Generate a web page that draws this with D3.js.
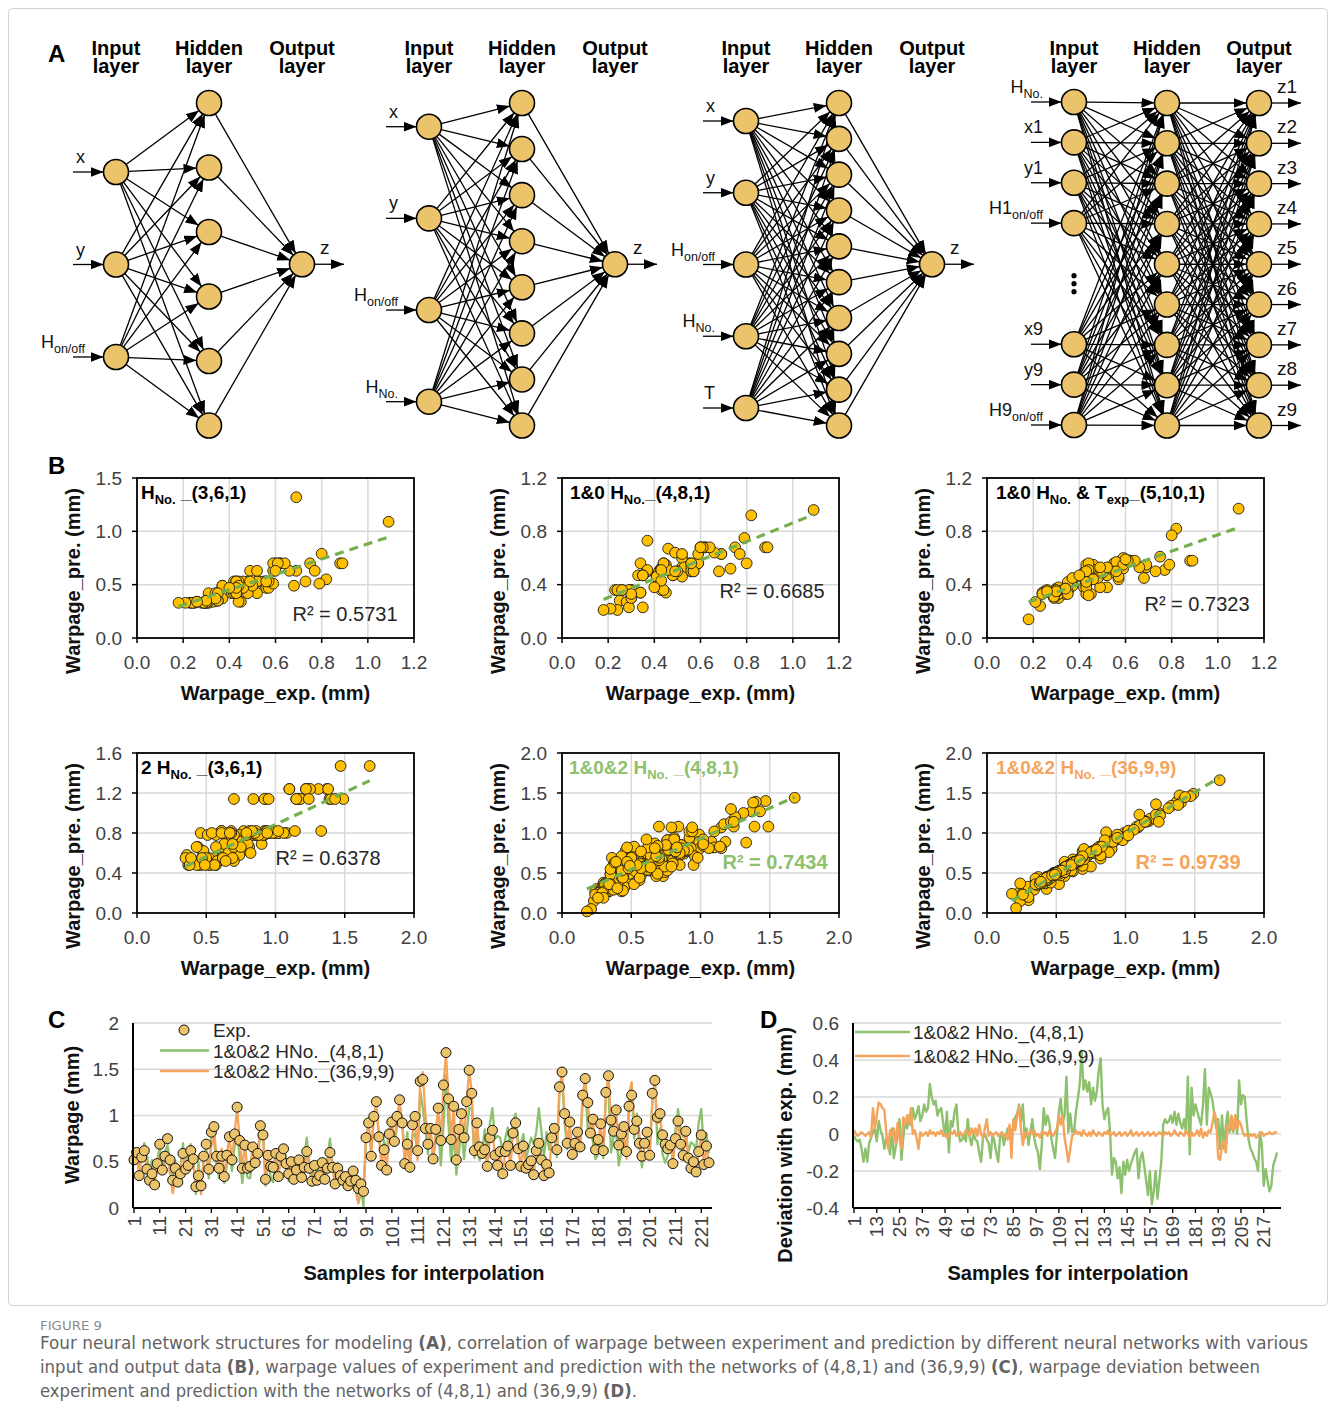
<!DOCTYPE html>
<html>
<head>
<meta charset="utf-8">
<title>Figure 9 – neural network warpage models</title>
<script src="https://cdn.jsdelivr.net/npm/d3@7/dist/d3.min.js"></script>
<style>
html,body{margin:0;padding:0;background:#fff;overflow:hidden;}
svg{display:block;}
text{white-space:pre;}
</style>
</head>
<body>
<svg id="fig" width="1333" height="1421"></svg>
<script>
// ===================== DATA =====================

// Experimental warpage (mm) of the 224 interpolation samples
const expWarpage = [
0.52,0.60,0.35,0.55,0.62,0.42,0.30,0.37,0.25,0.48,
0.69,0.41,0.56,0.75,0.52,0.30,0.43,0.28,0.37,0.59,
0.42,0.46,0.62,0.53,0.23,0.35,0.24,0.56,0.69,0.42,
0.82,0.88,0.56,0.43,0.56,0.34,0.57,0.77,0.52,0.80,
1.09,0.73,0.43,0.68,0.43,0.45,0.66,0.49,0.59,0.89,
0.79,0.31,0.57,0.45,0.44,0.59,0.34,0.56,0.64,0.48,
0.37,0.50,0.31,0.41,0.52,0.33,0.44,0.61,0.43,0.29,
0.46,0.30,0.35,0.49,0.31,0.43,0.60,0.44,0.26,0.43,
0.35,0.30,0.34,0.24,0.29,0.40,0.30,0.21,0.26,0.18,
0.76,0.92,0.56,0.99,1.15,0.77,0.46,0.63,0.41,0.80,
0.93,0.72,0.99,1.17,0.92,0.48,0.69,0.44,0.90,0.99,
0.62,1.37,1.39,0.86,0.69,0.86,0.53,0.85,1.08,0.73,
1.33,1.68,1.18,0.74,1.10,0.52,0.85,1.02,0.76,1.15,
1.49,1.24,0.62,0.92,0.66,0.59,0.63,0.45,0.76,0.84,
0.57,0.46,0.61,0.37,0.61,0.67,0.46,0.81,0.92,0.64,
0.45,0.67,0.43,0.47,0.51,0.36,0.62,0.70,0.52,0.35,
0.47,0.38,0.76,0.86,0.63,1.31,1.47,1.02,0.70,0.93,
0.58,0.70,0.82,0.66,1.22,1.40,1.14,0.81,0.96,0.63,
0.74,0.91,0.62,1.25,1.43,0.95,0.83,1.06,0.68,0.80,
0.88,0.61,1.10,1.22,0.85,0.94,0.70,0.56,0.70,0.82,
0.57,1.24,1.38,0.98,1.02,0.79,0.69,0.64,0.68,0.48,
0.75,0.94,0.69,0.57,0.83,0.54,0.43,0.50,0.39,0.61,
0.79,0.47,0.67,0.49
];

// Deviation (exp. - pre.) of the 1&0&2 HNo._(4,8,1) network
const dev481 = [
-0.01,-0.03,-0.04,-0.03,-0.08,-0.15,-0.08,-0.15,-0.05,-0.02,
0.01,0.03,-0.04,0.07,0.02,-0.01,-0.08,-0.02,-0.05,-0.11,
0.03,-0.13,-0.07,-0.01,0.08,-0.14,-0.02,0.07,0.03,0.10,
0.05,0.14,0.08,0.11,0.15,0.07,0.10,0.16,0.12,0.14,
0.27,0.20,0.16,0.18,0.10,0.13,0.14,0.06,-0.01,0.12,
-0.10,0.07,0.04,0.12,0.16,0.01,-0.04,-0.03,-0.01,-0.04,
0.08,-0.02,-0.06,0.01,-0.03,-0.04,-0.10,-0.15,-0.02,0.00,
-0.03,-0.05,-0.13,0.00,-0.04,-0.10,-0.15,-0.02,0.01,-0.06,
-0.01,0.03,-0.02,0.01,0.04,0.09,0.11,0.16,0.07,0.16,
-0.02,0.03,-0.06,0.01,0.08,-0.02,-0.07,-0.10,-0.19,-0.06,
0.14,0.05,0.10,0.06,-0.02,-0.08,-0.13,0.00,0.12,0.19,
0.06,0.10,0.31,0.01,0.11,0.01,0.01,0.12,0.19,0.27,
0.45,0.24,0.29,0.23,0.28,0.16,0.25,0.18,0.23,0.34,
0.41,0.16,0.08,0.12,0.14,0.01,-0.22,-0.13,-0.15,-0.24,
-0.18,-0.32,-0.15,-0.22,-0.14,-0.20,-0.16,-0.13,-0.10,-0.08,
-0.24,-0.13,-0.10,-0.17,-0.25,-0.33,-0.20,-0.38,-0.31,-0.20,
-0.35,-0.25,-0.15,0.05,0.08,0.06,0.07,0.10,0.06,0.12,
0.05,0.11,0.06,0.03,0.08,0.01,0.31,-0.11,0.25,0.10,
0.16,0.12,0.08,0.05,0.16,0.35,0.05,0.25,0.22,0.18,
0.10,0.03,0.08,-0.08,0.10,-0.08,0.04,0.12,0.01,0.05,
0.01,0.10,0.00,0.29,0.16,0.21,0.20,0.07,-0.03,-0.08,
-0.10,-0.13,-0.15,-0.20,0.01,-0.06,-0.28,-0.19,-0.25,-0.31,
-0.28,-0.17,-0.14,-0.10
];

// Deviation (exp. - pre.) of the 1&0&2 HNo._(36,9,9) network
const dev3699 = [
0.02,0.00,-0.01,0.00,0.01,0.00,-0.01,0.00,0.01,-0.02,
0.14,0.03,0.10,0.17,0.16,0.14,0.13,0.01,-0.08,0.02,
-0.01,0.03,-0.05,0.06,-0.02,-0.08,0.09,0.05,0.10,0.05,
0.14,0.00,0.02,-0.02,-0.08,0.01,-0.01,0.00,0.01,-0.01,
0.02,0.00,0.01,-0.01,0.01,0.00,0.02,-0.01,0.00,-0.02,
-0.01,0.01,0.00,0.02,-0.01,0.00,0.01,-0.01,0.00,0.02,
0.01,-0.01,0.03,0.00,0.03,-0.01,0.05,0.00,-0.02,0.03,
0.08,-0.01,0.01,-0.01,0.00,0.01,-0.01,0.00,0.01,-0.01,
0.00,-0.03,0.05,-0.13,0.08,0.02,0.10,0.15,0.03,-0.06,
0.00,0.01,-0.01,0.02,0.00,0.02,-0.01,0.00,-0.02,0.01,
0.00,0.01,-0.01,0.02,0.00,-0.01,0.01,0.03,0.10,0.05,
0.10,-0.02,-0.08,-0.15,-0.08,-0.01,0.00,0.02,0.00,0.01,
-0.01,0.02,0.00,-0.01,0.01,-0.01,0.02,0.00,-0.01,0.01,
0.00,-0.01,0.01,0.00,0.02,-0.01,0.00,0.01,-0.01,0.00,
0.01,-0.01,0.00,0.01,-0.01,0.00,0.02,-0.01,0.00,0.01,
-0.01,0.00,0.01,-0.01,0.00,0.01,-0.01,0.00,0.01,-0.01,
0.00,0.01,0.00,-0.01,0.01,0.00,0.01,-0.01,0.00,0.02,
0.00,-0.01,0.01,0.00,-0.01,0.02,0.00,-0.02,0.01,-0.01,
0.00,0.02,-0.01,0.03,-0.02,0.01,-0.01,0.02,0.01,0.06,
0.12,0.08,-0.13,-0.14,-0.06,-0.04,-0.10,0.05,0.03,0.10,
0.02,0.10,0.03,0.07,0.05,0.01,-0.01,0.00,-0.02,0.00,
-0.01,0.00,-0.02,-0.01,0.00,0.01,-0.01,0.00,0.00,0.01,
0.00,0.00,0.01,0.01
];

// Predicted warpage (mm), samples 1-90: HNo._(3,6,1)
const predHNo361 = [
0.53,0.70,0.42,0.53,0.70,0.53,0.33,0.49,0.33,0.53,
1.32,0.42,0.49,0.70,0.42,0.35,0.49,0.33,0.37,0.63,
0.47,0.53,0.70,0.53,0.33,0.35,0.33,0.49,0.63,0.42,
0.55,0.70,0.53,0.53,0.47,0.35,0.47,0.63,0.53,0.79,
1.09,0.53,0.49,0.49,0.42,0.47,0.63,0.63,0.51,0.70,
0.51,0.42,0.53,0.34,0.34,0.70,0.42,0.53,0.70,0.42,
0.49,0.49,0.33,0.47,0.63,0.34,0.53,0.70,0.53,0.33,
0.47,0.35,0.42,0.53,0.34,0.42,0.63,0.49,0.34,0.47,
0.35,0.33,0.37,0.33,0.33,0.47,0.35,0.33,0.34,0.33
];
// samples 1-90: 1&0 HNo._(4,8,1)
const predHNo481 = [
0.53,0.68,0.47,0.56,0.68,0.43,0.30,0.73,0.28,0.47,
0.63,0.46,0.50,0.68,0.60,0.36,0.52,0.27,0.50,0.56,
0.50,0.67,0.68,0.53,0.36,0.23,0.21,0.56,0.63,0.43,
0.92,0.68,0.53,0.52,0.50,0.56,0.50,0.63,0.46,0.56,
0.96,0.52,0.52,0.50,0.36,0.55,0.64,0.64,0.56,0.68,
0.75,0.34,0.50,0.34,0.36,0.63,0.34,0.56,0.68,0.47,
0.51,0.50,0.34,0.46,0.63,0.47,0.56,0.68,0.52,0.23,
0.51,0.36,0.47,0.50,0.34,0.43,0.68,0.56,0.36,0.51,
0.47,0.30,0.34,0.36,0.36,0.38,0.33,0.22,0.36,0.21
];
// samples 1-90: 1&0 HNo. & Texp_(5,10,1)
const predHNoT5101 = [
0.50,0.59,0.38,0.56,0.58,0.45,0.37,0.43,0.35,0.52,
0.53,0.47,0.50,0.61,0.47,0.31,0.52,0.33,0.39,0.60,
0.38,0.55,0.58,0.52,0.24,0.42,0.34,0.54,0.55,0.49,
0.82,0.58,0.57,0.40,0.48,0.37,0.44,0.51,0.38,0.77,
0.97,0.50,0.55,0.45,0.33,0.52,0.53,0.38,0.52,0.58,
0.55,0.30,0.46,0.33,0.56,0.55,0.33,0.50,0.58,0.45,
0.45,0.49,0.38,0.46,0.53,0.36,0.51,0.58,0.50,0.30,
0.44,0.36,0.35,0.53,0.33,0.38,0.59,0.32,0.36,0.42,
0.33,0.34,0.37,0.33,0.31,0.47,0.35,0.27,0.35,0.14
];
// samples 91-224: 2 HNo._(3,6,1)
const pred2HNo361 = [
0.66,0.82,0.55,0.80,1.14,0.82,0.48,0.66,0.52,0.78,
1.14,0.66,0.80,1.14,0.80,0.52,0.78,0.66,0.69,0.82,
0.80,1.24,1.14,0.78,0.60,0.82,0.48,0.78,0.80,0.69,
0.82,1.47,1.14,0.78,1.24,0.55,0.78,0.80,0.62,1.14,
1.14,1.24,0.80,1.14,0.58,0.52,0.66,0.48,0.69,1.14,
0.48,0.80,0.55,0.48,0.82,0.66,0.52,0.82,0.78,0.55,
0.52,0.78,0.48,0.55,0.78,0.58,0.66,1.14,0.48,0.55,
0.62,0.48,0.72,0.78,0.69,1.24,1.47,0.80,0.62,0.82,
0.52,0.78,0.78,0.60,1.24,1.14,0.82,0.66,0.80,0.80,
0.58,0.78,0.55,1.24,1.14,1.14,0.80,0.80,0.82,0.69,
0.78,0.82,1.24,1.24,0.80,0.82,0.66,0.48,0.52,0.60,
0.78,1.14,1.24,0.80,0.82,0.78,0.55,0.52,0.80,0.62,
0.66,0.80,0.69,0.66,0.82,0.80,0.66,0.55,0.55,0.80,
0.80,0.55,0.80,0.48
];

// Linear trendlines (slope, intercept) and R² of the six correlation plots
const trendSlope     = [0.717, 0.700, 0.615, 0.645, 0.766, 1.028];
const trendIntercept = [0.166, 0.163, 0.159, 0.240, 0.162, -0.033];
const r2Values       = ["0.5731", "0.6685", "0.7323", "0.6378", "0.7434", "0.9739"];

// Axis ticks
const ticksExpSmall = [0, 0.2, 0.4, 0.6, 0.8, 1.0, 1.2];
const ticksExpLarge = [0, 0.5, 1.0, 1.5, 2.0];
const ticksPre15 = [0, 0.5, 1.0, 1.5];
const ticksPre12 = [0, 0.4, 0.8, 1.2];
const ticksPre16 = [0, 0.4, 0.8, 1.2, 1.6];
const ticksPre20 = [0, 0.5, 1.0, 1.5, 2.0];
const ticksWarpC = [0, 0.5, 1, 1.5, 2];
const ticksDevD  = [-0.4, -0.2, 0, 0.2, 0.4, 0.6];
const sampleTicksC = [1,11,21,31,41,51,61,71,81,91,101,111,121,131,141,151,161,171,181,191,201,211,221];
const sampleTicksD = [1,13,25,37,49,61,73,85,97,109,121,133,145,157,169,181,193,205,217];

// Network structures: input labels (segments: [text, subscript?]), hidden count, outputs
const layerHeaders = [["Input", "layer"], ["Hidden", "layer"], ["Output", "layer"]];
const netInputs = [
  [[["x",0]], [["y",0]], [["H",0],["on/off",1]]],
  [[["x",0]], [["y",0]], [["H",0],["on/off",1]], [["H",0],["No.",1]]],
  [[["x",0]], [["y",0]], [["H",0],["on/off",1]], [["H",0],["No.",1]], [["T",0]]],
  [[["H",0],["No.",1]], [["x1",0]], [["y1",0]], [["H1",0],["on/off",1]], null, null,
   [["x9",0]], [["y9",0]], [["H9",0],["on/off",1]]]
];
const netHidden = [6, 8, 10, 9];
const netOutputs = [["z"], ["z"], ["z"], ["z1","z2","z3","z4","z5","z6","z7","z8","z9"]];

// Chart titles of the correlation plots
const scatterTitles = [
  [["H",0],["No.",1],[" _(3,6,1)",0]],
  [["1&0 H",0],["No.",1],["_(4,8,1)",0]],
  [["1&0 H",0],["No.",1],[" & T",0],["exp",1],["_(5,10,1)",0]],
  [["2 H",0],["No.",1],[" _(3,6,1)",0]],
  [["1&0&2 H",0],["No.",1],[" _(4,8,1)",0]],
  [["1&0&2 H",0],["No.",1],[" _(36,9,9)",0]]
];
const seriesNames = ["Exp.", "1&0&2 HNo._(4,8,1)", "1&0&2 HNo._(36,9,9)"];

const captionHead = "FIGURE 9";
const captionLines = [
  [["Four neural network structures for modeling ",0],["(A)",1],[", correlation of warpage between experiment and prediction by different neural networks with various",0]],
  [["input and output data ",0],["(B)",1],[", warpage values of experiment and prediction with the networks of (4,8,1) and (36,9,9) ",0],["(C)",1],[", warpage deviation between",0]],
  [["experiment and prediction with the networks of (4,8,1) and (36,9,9) ",0],["(D)",1],[".",0]]
];

// ===================== DRAWING =====================
const FF = "'Liberation Sans', Arial, Helvetica, sans-serif";
const GREEN = "#8DC16E", ORANGE = "#F5A45C", NODE_FILL = "#EAC36A", PT_FILL = "#FFC000", TREND = "#76B04D";
const TICK_COL = "#404040";

const svg = d3.select("#fig").attr("font-family", FF);

// Predictions derived from the deviations (deviation = exp. - pre.)
const pre481 = expWarpage.map((e, i) => +(e - dev481[i]).toFixed(3));
const pre3699 = expWarpage.map((e, i) => +(e - dev3699[i]).toFixed(3));

// Frame around the figure
svg.append("rect").attr("x", 8.5).attr("y", 8.5).attr("width", 1319).attr("height", 1297)
  .attr("rx", 4).attr("fill", "none").attr("stroke", "#d2d2d2").attr("stroke-width", 1);

// Text with optional subscript segments
function rich(sel, segs, size, subSize, shift) {
  let lvl = 0;
  segs.forEach(([t, sub]) => {
    const ts = sel.append("tspan").text(t).attr("font-size", sub ? subSize : size);
    const target = sub ? shift : 0;
    if (target !== lvl) { ts.attr("dy", target - lvl); lvl = target; }
  });
  return sel;
}

function panelLetter(ch, x, y) {
  svg.append("text").attr("x", x).attr("y", y).attr("font-size", 24).attr("font-weight", "bold")
    .attr("fill", "#000").text(ch);
}
panelLetter("A", 48, 62);
panelLetter("B", 48, 474);
panelLetter("C", 48, 1028);
panelLetter("D", 760, 1028);

// ---------- Panel A: network structures ----------
const defs = svg.append("defs");
defs.append("marker").attr("id", "ah").attr("viewBox", "0 0 13 10")
  .attr("refX", 13).attr("refY", 5).attr("markerWidth", 13).attr("markerHeight", 10)
  .attr("markerUnits", "userSpaceOnUse").attr("orient", "auto")
  .append("path").attr("d", "M0,0L13,5L0,10Z").attr("fill", "#000");

const NODE_R = 12.5;
const netCols = [[116, 209, 302], [429, 522, 615], [746, 839, 932], [1074, 1167, 1259]];
const netInSpan = [[172, 357], [126.7, 401.7], [121, 408], [102, 425]];
const colSpan = [103, 425.5];

function edgeCoords(a, b) {
  const dx = b.x - a.x, dy = b.y - a.y, L = Math.hypot(dx, dy);
  const ux = dx / L, uy = dy / L;
  return { x1: a.x + ux * NODE_R, y1: a.y + uy * NODE_R, x2: b.x - ux * NODE_R, y2: b.y - uy * NODE_R };
}

netInputs.forEach((inputs, k) => {
  const [cx0, cx1, cx2] = netCols[k];
  const g = svg.append("g");

  // two-line layer headers
  layerHeaders.forEach((lines, j) => {
    lines.forEach((ln, li) => {
      g.append("text").attr("x", netCols[k][j]).attr("y", 55 + li * 18).attr("text-anchor", "middle")
        .attr("font-size", 20).attr("font-weight", "bold").attr("fill", "#000").text(ln);
    });
  });

  const yIn = d3.scaleLinear().domain([0, inputs.length - 1]).range(netInSpan[k]);
  const inNodes = inputs.map((lab, i) => lab ? { x: cx0, y: yIn(i), lab } : null).filter(Boolean);
  const yHid = d3.scaleLinear().domain([0, netHidden[k] - 1]).range(colSpan);
  const hidNodes = d3.range(netHidden[k]).map(i => ({ x: cx1, y: yHid(i) }));
  const outs = netOutputs[k];
  const yOut = outs.length > 1 ? d3.scaleLinear().domain([0, outs.length - 1]).range(colSpan)
                               : () => d3.mean(colSpan);
  const outNodes = outs.map((lab, i) => ({ x: cx2, y: yOut(i), lab }));

  const links = [];
  inNodes.forEach(a => hidNodes.forEach(b => links.push(edgeCoords(a, b))));
  hidNodes.forEach(a => outNodes.forEach(b => links.push(edgeCoords(a, b))));
  inNodes.forEach(n => links.push({ x1: n.x - 43, y1: n.y, x2: n.x - NODE_R, y2: n.y }));
  outNodes.forEach(n => links.push({ x1: n.x + NODE_R, y1: n.y, x2: n.x + 42, y2: n.y }));

  g.selectAll("line.edge").data(links).join("line").attr("class", "edge")
    .attr("x1", d => d.x1).attr("y1", d => d.y1).attr("x2", d => d.x2).attr("y2", d => d.y2)
    .attr("stroke", "#000").attr("stroke-width", 1.3).attr("marker-end", "url(#ah)");

  g.selectAll("circle.node").data(inNodes.concat(hidNodes, outNodes)).join("circle").attr("class", "node")
    .attr("cx", d => d.x).attr("cy", d => d.y).attr("r", NODE_R)
    .attr("fill", NODE_FILL).attr("stroke", "#000").attr("stroke-width", 1.6);

  // input labels
  inNodes.forEach(n => {
    const t = g.append("text").attr("x", n.x - 31).attr("y", n.y - 9).attr("text-anchor", "end").attr("fill", "#111");
    rich(t, n.lab, 18, 12.5, 5);
  });
  // output labels
  outNodes.forEach(n => {
    g.append("text").attr("x", n.x + 18).attr("y", n.y - 10).attr("font-size", 19).attr("fill", "#111").text(n.lab);
  });
  // ellipsis between skipped inputs
  const gapIdx = inputs.map((d, i) => d ? null : i).filter(v => v !== null);
  if (gapIdx.length) {
    const midY = yIn(d3.mean(gapIdx));
    g.selectAll("circle.dot").data([-8, 0, 8]).join("circle").attr("class", "dot")
      .attr("cx", cx0).attr("cy", d => midY + d).attr("r", 2.6).attr("fill", "#000");
  }
});

// ---------- Panel B: correlation plots ----------
const PW = 277, PH = 160;
const scatterBoxes = [
  { x0: 137, y0: 478 }, { x0: 562, y0: 478 }, { x0: 987, y0: 478 },
  { x0: 137, y0: 753 }, { x0: 562, y0: 753 }, { x0: 987, y0: 753 }
];
const expFirst = expWarpage.slice(0, 90), expSecond = expWarpage.slice(90);
const scatterX = [expFirst, expFirst, expFirst, expSecond, expWarpage, expWarpage];
const scatterY = [predHNo361, predHNo481, predHNoT5101, pred2HNo361, pre481, pre3699];
const scatterXTicks = [ticksExpSmall, ticksExpSmall, ticksExpSmall, ticksExpLarge, ticksExpLarge, ticksExpLarge];
const scatterYTicks = [ticksPre15, ticksPre12, ticksPre12, ticksPre16, ticksPre20, ticksPre20];
const titleStyle = [
  { dx: 4, col: "#000" }, { dx: 8, col: "#000" }, { dx: 9, col: "#000" },
  { dx: 4, col: "#000" }, { dx: 7, col: GREEN }, { dx: 9, col: ORANGE }
];
const r2Style = [
  { dx: 208, dy: 136, bold: false, col: "#262626" }, { dx: 210, dy: 113, bold: false, col: "#262626" },
  { dx: 210, dy: 126, bold: false, col: "#262626" }, { dx: 191, dy: 105, bold: false, col: "#262626" },
  { dx: 213, dy: 109, bold: true, col: GREEN }, { dx: 201, dy: 109, bold: true, col: ORANGE }
];
const f1 = d3.format(".1f");

scatterBoxes.forEach((box, k) => {
  const xs = scatterX[k], ys = scatterY[k], xt = scatterXTicks[k], yt = scatterYTicks[k];
  const x = d3.scaleLinear().domain(d3.extent(xt)).range([box.x0, box.x0 + PW]);
  const y = d3.scaleLinear().domain(d3.extent(yt)).range([box.y0 + PH, box.y0]);
  const g = svg.append("g");

  g.selectAll("line.gx").data(xt.slice(1, -1)).join("line").attr("class", "gx")
    .attr("x1", d => x(d)).attr("x2", d => x(d)).attr("y1", box.y0).attr("y2", box.y0 + PH)
    .attr("stroke", "#d9d9d9").attr("stroke-width", 1.5);
  g.selectAll("line.gy").data(yt.slice(1, -1)).join("line").attr("class", "gy")
    .attr("y1", d => y(d)).attr("y2", d => y(d)).attr("x1", box.x0).attr("x2", box.x0 + PW)
    .attr("stroke", "#d9d9d9").attr("stroke-width", 1.5);

  g.selectAll("circle.pt").data(xs.map((v, i) => [v, ys[i]])).join("circle").attr("class", "pt")
    .attr("cx", d => x(d[0])).attr("cy", d => y(d[1])).attr("r", 5.4)
    .attr("fill", PT_FILL).attr("stroke", "#1a1a1a").attr("stroke-width", 0.9);

  const ext = d3.extent(xs);
  const a = trendIntercept[k], b = trendSlope[k];
  g.append("line").attr("x1", x(ext[0])).attr("y1", y(a + b * ext[0]))
    .attr("x2", x(ext[1])).attr("y2", y(a + b * ext[1]))
    .attr("stroke", TREND).attr("stroke-width", 3.2).attr("stroke-dasharray", "9 6");

  g.append("rect").attr("x", box.x0).attr("y", box.y0).attr("width", PW).attr("height", PH)
    .attr("fill", "none").attr("stroke", "#000").attr("stroke-width", 1.8);

  // ticks and tick labels
  g.selectAll("line.tx").data(xt).join("line").attr("class", "tx")
    .attr("x1", d => x(d)).attr("x2", d => x(d)).attr("y1", box.y0 + PH).attr("y2", box.y0 + PH + 5)
    .attr("stroke", "#000").attr("stroke-width", 1.5);
  g.selectAll("line.ty").data(yt).join("line").attr("class", "ty")
    .attr("y1", d => y(d)).attr("y2", d => y(d)).attr("x1", box.x0 - 5).attr("x2", box.x0)
    .attr("stroke", "#000").attr("stroke-width", 1.5);
  g.selectAll("text.lx").data(xt).join("text").attr("class", "lx")
    .attr("x", d => x(d)).attr("y", box.y0 + PH + 31).attr("text-anchor", "middle")
    .attr("font-size", 19).attr("fill", TICK_COL).text(f1);
  g.selectAll("text.ly").data(yt).join("text").attr("class", "ly")
    .attr("x", box.x0 - 15).attr("y", d => y(d)).attr("dy", "0.35em").attr("text-anchor", "end")
    .attr("font-size", 19).attr("fill", TICK_COL).text(f1);

  // axis titles
  g.append("text").attr("x", box.x0 + PW / 2).attr("y", box.y0 + PH + 62).attr("text-anchor", "middle")
    .attr("font-size", 20).attr("font-weight", "bold").attr("fill", "#111").text("Warpage_exp. (mm)");
  const ycx = box.x0 - 64, ycy = box.y0 + 103;
  g.append("text").attr("x", ycx).attr("y", ycy).attr("dy", "0.35em").attr("text-anchor", "middle")
    .attr("transform", `rotate(-90,${ycx},${ycy})`)
    .attr("font-size", 20).attr("font-weight", "bold").attr("fill", "#111").text("Warpage_pre. (mm)");

  // chart title and R²
  const ts = titleStyle[k];
  const t = g.append("text").attr("x", box.x0 + ts.dx).attr("y", box.y0 + 21)
    .attr("font-weight", "bold").attr("fill", ts.col);
  rich(t, scatterTitles[k], 19, 13, 5);
  const rs = r2Style[k];
  g.append("text").attr("x", box.x0 + rs.dx).attr("y", box.y0 + rs.dy).attr("dy", "0.35em")
    .attr("text-anchor", "middle").attr("font-size", 20).attr("font-weight", rs.bold ? "bold" : "normal")
    .attr("fill", rs.col).text("R² = " + r2Values[k]);
});

// ---------- shared helpers for the sample plots ----------
function drawSampleFrame(g, x, ys, yTicks, sTicks, left, right, bottom) {
  g.selectAll("line.grid").data(yTicks.filter(v => Math.abs(ys(v) - bottom) > 1)).join("line").attr("class", "grid")
    .attr("x1", left).attr("x2", right).attr("y1", d => ys(d)).attr("y2", d => ys(d))
    .attr("stroke", "#d9d9d9").attr("stroke-width", 1.5);
  g.selectAll("text.ly").data(yTicks).join("text").attr("class", "ly")
    .attr("x", left - 14).attr("y", d => ys(d)).attr("dy", "0.35em").attr("text-anchor", "end")
    .attr("font-size", 19).attr("fill", TICK_COL).text(d => String(d));
  g.selectAll("line.tx").data(sTicks).join("line").attr("class", "tx")
    .attr("x1", d => x(d)).attr("x2", d => x(d)).attr("y1", bottom).attr("y2", bottom + 5)
    .attr("stroke", "#000").attr("stroke-width", 1.3);
  g.selectAll("text.lx").data(sTicks).join("text").attr("class", "lx")
    .attr("transform", d => `translate(${x(d)},${bottom + 8}) rotate(-90)`)
    .attr("dy", "0.35em").attr("text-anchor", "end").attr("font-size", 19).attr("fill", TICK_COL)
    .text(d => d);
}
function drawAxesLines(g, left, right, top, bottom) {
  g.append("line").attr("x1", left).attr("x2", left).attr("y1", top).attr("y2", bottom)
    .attr("stroke", "#000").attr("stroke-width", 2);
  g.append("line").attr("x1", left).attr("x2", right).attr("y1", bottom).attr("y2", bottom)
    .attr("stroke", "#000").attr("stroke-width", 2);
}
function rotTitle(g, cx, cy, txt) {
  g.append("text").attr("x", cx).attr("y", cy).attr("dy", "0.35em").attr("text-anchor", "middle")
    .attr("transform", `rotate(-90,${cx},${cy})`).attr("font-size", 20).attr("font-weight", "bold")
    .attr("fill", "#111").text(txt);
}
function legendText(g, x, y, txt) {
  g.append("text").attr("x", x).attr("y", y).attr("dy", "0.35em").attr("font-size", 19)
    .attr("fill", "#262626").text(txt);
}

// ---------- Panel C: warpage of the interpolation samples ----------
{
  const g = svg.append("g");
  const left = 133, right = 712, top = 1023, bottom = 1208;
  const x = d3.scaleLinear().domain([1, 224]).range([134, 709]);
  const y = d3.scaleLinear().domain([0, 2]).range([bottom, top]);
  drawSampleFrame(g, x, y, ticksWarpC, sampleTicksC, left, right, bottom);

  const line = d3.line().x((d, i) => x(i + 1)).y(d => y(d));
  g.append("path").attr("d", line(pre481)).attr("fill", "none").attr("stroke", GREEN).attr("stroke-width", 2.3)
    .attr("stroke-linejoin", "round");
  g.append("path").attr("d", line(pre3699)).attr("fill", "none").attr("stroke", ORANGE).attr("stroke-width", 2.3)
    .attr("stroke-linejoin", "round");
  g.selectAll("circle.exp").data(expWarpage).join("circle").attr("class", "exp")
    .attr("cx", (d, i) => x(i + 1)).attr("cy", d => y(d)).attr("r", 5)
    .attr("fill", NODE_FILL).attr("stroke", "#111").attr("stroke-width", 1);
  drawAxesLines(g, left, right, top, bottom);

  // legend
  g.append("circle").attr("cx", 184).attr("cy", 1030).attr("r", 5).attr("fill", NODE_FILL)
    .attr("stroke", "#111").attr("stroke-width", 1);
  legendText(g, 213, 1030, seriesNames[0]);
  g.append("line").attr("x1", 160).attr("x2", 209).attr("y1", 1050.5).attr("y2", 1050.5)
    .attr("stroke", GREEN).attr("stroke-width", 2.5);
  legendText(g, 213, 1051, seriesNames[1]);
  g.append("line").attr("x1", 160).attr("x2", 209).attr("y1", 1071).attr("y2", 1071)
    .attr("stroke", ORANGE).attr("stroke-width", 2.5);
  legendText(g, 213, 1071, seriesNames[2]);

  rotTitle(g, 72, 1115, "Warpage (mm)");
  g.append("text").attr("x", 424).attr("y", 1280).attr("text-anchor", "middle").attr("font-size", 20)
    .attr("font-weight", "bold").attr("fill", "#111").text("Samples for interpolation");
}

// ---------- Panel D: deviation from experiment ----------
{
  const g = svg.append("g");
  const left = 853, right = 1281, top = 1023, bottom = 1208;
  const x = d3.scaleLinear().domain([1, 224]).range([854, 1277]);
  const y = d3.scaleLinear().domain([-0.4, 0.6]).range([bottom, top]);
  drawSampleFrame(g, x, y, ticksDevD, sampleTicksD, left, right, bottom);

  const line = d3.line().x((d, i) => x(i + 1)).y(d => y(d));
  g.append("path").attr("d", line(dev481)).attr("fill", "none").attr("stroke", GREEN).attr("stroke-width", 2.4)
    .attr("stroke-linejoin", "round");
  g.append("path").attr("d", line(dev3699)).attr("fill", "none").attr("stroke", ORANGE).attr("stroke-width", 2.4)
    .attr("stroke-linejoin", "round");
  drawAxesLines(g, left, right, top, bottom);

  g.append("line").attr("x1", 855).attr("x2", 910).attr("y1", 1032).attr("y2", 1032)
    .attr("stroke", GREEN).attr("stroke-width", 2.5);
  legendText(g, 913, 1032, seriesNames[1]);
  g.append("line").attr("x1", 855).attr("x2", 910).attr("y1", 1056).attr("y2", 1056)
    .attr("stroke", ORANGE).attr("stroke-width", 2.5);
  legendText(g, 913, 1056, seriesNames[2]);

  rotTitle(g, 785, 1145, "Deviation with exp. (mm)");
  g.append("text").attr("x", 1068).attr("y", 1280).attr("text-anchor", "middle").attr("font-size", 20)
    .attr("font-weight", "bold").attr("fill", "#111").text("Samples for interpolation");
}

// ---------- Caption ----------
const CAP_FF = "'Liberation Sans Narrow', 'DejaVu Sans Condensed', 'Liberation Sans', sans-serif";
svg.append("text").attr("x", 40).attr("y", 1330).attr("font-family", CAP_FF).attr("font-size", 13)
  .attr("fill", "#8a8a8a").attr("textLength", 62).attr("lengthAdjust", "spacingAndGlyphs").text(captionHead);
const capLens = [1268, 1220, 597];
captionLines.forEach((segs, i) => {
  const t = svg.append("text").attr("x", 40).attr("y", 1349 + i * 24).attr("font-family", CAP_FF)
    .attr("font-size", 18).attr("fill", "#636363")
    .attr("textLength", capLens[i]).attr("lengthAdjust", "spacingAndGlyphs");
  segs.forEach(([s, b]) => t.append("tspan").attr("font-weight", b ? "bold" : "normal").text(s));
});
</script>
</body>
</html>
